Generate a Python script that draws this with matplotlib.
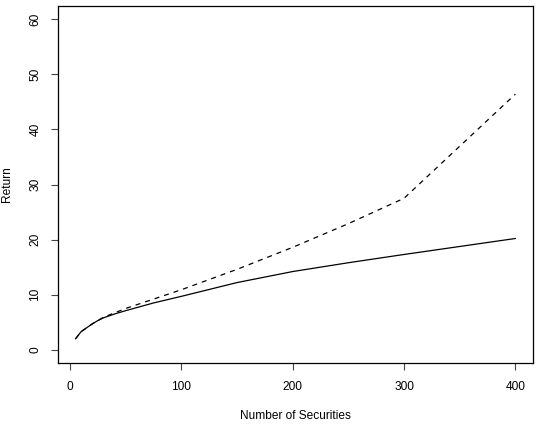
import matplotlib
matplotlib.use("Agg")
import matplotlib.pyplot as plt

# number of securities and the two return curves
n_securities = [5, 10, 15, 20, 25, 30, 40, 50, 75, 100, 150, 200, 250, 300, 400]
ret_solid = [2.0, 3.3, 4.0, 4.7, 5.3, 5.8, 6.5, 7.1, 8.5, 9.7, 12.2, 14.2, 15.8, 17.3, 20.2]
ret_dashed = [2.0, 3.3, 4.0, 4.7, 5.3, 5.9, 6.7, 7.5, 9.2, 10.9, 14.6, 18.6, 22.9, 27.5, 46.4]

x_ticks = [0, 100, 200, 300, 400]
y_ticks = [0, 10, 20, 30, 40, 50, 60]

plt.rcParams['font.family'] = ['Liberation Sans', 'DejaVu Sans']

fig = plt.figure(figsize=(5.55, 4.32), dpi=100)
ax = fig.add_axes([58 / 555, 69 / 432, (533 - 58) / 555, (363 - 6) / 432])

ax.plot(n_securities, ret_solid, color='black', lw=0.9)
ax.plot(n_securities, ret_dashed, color='black', lw=0.9, dashes=(4, 4))

ax.set_xlim(-10.8, 415.8)
ax.set_ylim(-2.4, 62.4)
ax.set_xticks(x_ticks)
ax.set_yticks(y_ticks)
ax.set_yticklabels([str(v) for v in y_ticks], rotation=90, va='center')
ax.tick_params(length=5, width=0.8, labelsize=8.6, pad=8, color='#444444')
ax.tick_params(axis='y', pad=7)

for side in ['left', 'bottom', 'right', 'top']:
    ax.spines[side].set_linewidth(0.9)

ax.set_xlabel('Number of Securities', fontsize=8.6, labelpad=12)
ax.set_ylabel('Return', fontsize=8.6)
ax.yaxis.set_label_coords(-0.094, 0.5)

fig.savefig('out.png', dpi=100)
